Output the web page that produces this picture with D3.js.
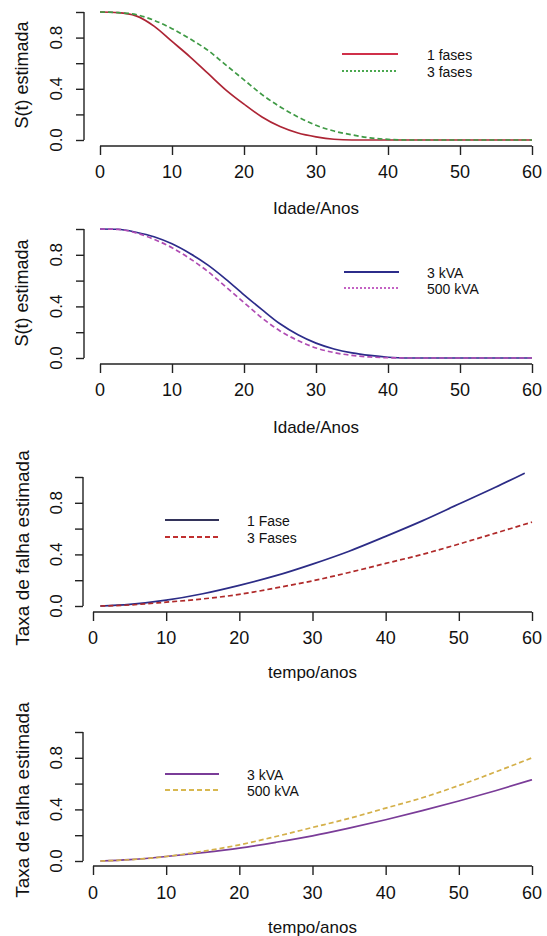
<!DOCTYPE html>
<html>
<head>
<meta charset="utf-8">
<script src="https://cdn.jsdelivr.net/npm/d3@7/dist/d3.min.js"></script>
<style>
  html, body { margin: 0; padding: 0; background: #fff; }
  svg text { font-family: "Liberation Sans", Arial, Helvetica, sans-serif; fill: #111; }
</style>
</head>
<body>
<svg id="chart" width="547" height="936"></svg>
<script>
// ---------- DATA ----------
const xTicks = [0, 10, 20, 30, 40, 50, 60];
const yTicks = [0, 0.2, 0.4, 0.6, 0.8, 1.0];
const yTickLabels = ["0.0", "", "0.4", "", "0.8", ""];

// survival curves (ages in years)
const survAges = [0, 2.5, 5, 7.5, 10, 12.5, 15, 17.5, 20, 22.5, 25, 27.5, 30, 32.5, 35, 37.5, 40, 42.5, 45, 47.5, 50, 52.5, 55, 57.5, 60];
const s1Fases = [1.0, 0.995, 0.97, 0.89, 0.77, 0.65, 0.52, 0.39, 0.28, 0.18, 0.105, 0.055, 0.025, 0.006, 0, 0, 0, 0, 0, 0, 0, 0, 0, 0, 0];
const s3Fases = [1.0, 0.995, 0.98, 0.935, 0.87, 0.79, 0.70, 0.585, 0.47, 0.355, 0.26, 0.18, 0.115, 0.07, 0.04, 0.017, 0.005, 0, 0, 0, 0, 0, 0, 0, 0];
const s3kVA = [1.0, 0.998, 0.975, 0.94, 0.885, 0.81, 0.72, 0.61, 0.49, 0.375, 0.265, 0.18, 0.115, 0.07, 0.04, 0.02, 0.006, 0, 0, 0, 0, 0, 0, 0, 0];
const s500kVA = [1.0, 0.997, 0.97, 0.92, 0.855, 0.77, 0.67, 0.55, 0.43, 0.31, 0.21, 0.135, 0.078, 0.042, 0.02, 0.008, 0.002, 0, 0, 0, 0, 0, 0, 0, 0];

// hazard curves (time in years)
const hazTimesA = [1, 5, 10, 15, 20, 25, 30, 35, 40, 45, 50, 55, 59];
const hazTimesB = [1, 5, 10, 15, 20, 25, 30, 35, 40, 45, 50, 55, 60];
const h1Fase = [0.0, 0.012, 0.045, 0.095, 0.16, 0.235, 0.325, 0.425, 0.54, 0.66, 0.79, 0.92, 1.03];
const h3Fases = [0.0, 0.008, 0.03, 0.055, 0.09, 0.14, 0.195, 0.26, 0.33, 0.40, 0.48, 0.565, 0.65];
const h3kVA = [0.0, 0.01, 0.035, 0.065, 0.10, 0.145, 0.195, 0.255, 0.32, 0.39, 0.465, 0.545, 0.63];
const h500kVA = [0.0, 0.01, 0.035, 0.075, 0.125, 0.19, 0.26, 0.33, 0.41, 0.49, 0.585, 0.69, 0.80];

// ---------- LAYOUT ----------
const svg = d3.select("#chart");
const tickFont = 18;
const titleFont = 17;

const panels = [
  {
    x0: 100, x1: 532, yTop: 12, yBot: 140, axisY: 146, yAxisX: 84,
    tickLabelY: 172, titleY: 208, ylabel: "S(t) estimada", ylabelY: 75, xlabel: "Idade/Anos",
    series: [
      { name: "1 fases", xs: survAges, ys: s1Fases, color: "#ad2535", dash: null, legDash: null, legColor: "#d0304a" },
      { name: "3 fases", xs: survAges, ys: s3Fases, color: "#3f9a45", dash: "5,3", legDash: "2,2", legColor: "#4aa84f" }
    ],
    legend: { x1: 342, x2: 398, y: 54, dy: 17, textX: 427 }
  },
  {
    x0: 100, x1: 532, yTop: 229, yBot: 358, axisY: 364, yAxisX: 84,
    tickLabelY: 390, titleY: 427, ylabel: "S(t) estimada", ylabelY: 293, xlabel: "Idade/Anos",
    series: [
      { name: "3 kVA", xs: survAges, ys: s3kVA, color: "#2c2c8a", dash: null, legDash: null, legColor: "#2c2c8a" },
      { name: "500 kVA", xs: survAges, ys: s500kVA, color: "#b04cb4", dash: "5,3", legDash: "2,2", legColor: "#c462c4" }
    ],
    legend: { x1: 344, x2: 399, y: 272, dy: 16, textX: 427 }
  },
  {
    x0: 93, x1: 532, yTop: 477, yBot: 606, axisY: 612, yAxisX: 83,
    tickLabelY: 638, titleY: 672, ylabel: "Taxa de falha estimada", ylabelY: 548, xlabel: "tempo/anos",
    series: [
      { name: "1 Fase", xs: hazTimesA, ys: h1Fase, color: "#2c2c86", dash: null, legDash: null, legColor: "#33335a" },
      { name: "3 Fases", xs: hazTimesB, ys: h3Fases, color: "#b02a2a", dash: "5,3", legDash: "5,3", legColor: "#c03030" }
    ],
    legend: { x1: 165, x2: 219, y: 520, dy: 17, textX: 247 }
  },
  {
    x0: 93, x1: 532, yTop: 732, yBot: 861, axisY: 866, yAxisX: 83,
    tickLabelY: 893, titleY: 927, ylabel: "Taxa de falha estimada", ylabelY: 800, xlabel: "tempo/anos",
    series: [
      { name: "3 kVA", xs: hazTimesB, ys: h3kVA, color: "#7a3c98", dash: null, legDash: null, legColor: "#7a3c98" },
      { name: "500 kVA", xs: hazTimesB, ys: h500kVA, color: "#d4b04a", dash: "5,3", legDash: "5,3", legColor: "#d8b850" }
    ],
    legend: { x1: 165, x2: 219, y: 774, dy: 16, textX: 247 }
  }
];

panels.forEach(p => {
  const g = svg.append("g");
  const x = d3.scaleLinear().domain([0, 60]).range([p.x0, p.x1]);
  const y = d3.scaleLinear().domain([0, 1]).range([p.yBot, p.yTop]);

  // x axis
  const xAxis = d3.axisBottom(x).tickValues(xTicks).tickSize(9).tickPadding(6)
    .tickFormat(d3.format("d"));
  const gx = g.append("g").attr("transform", `translate(0,${p.axisY})`).call(xAxis);
  gx.select(".domain").attr("d", `M${p.x0},0H${p.x1}`).attr("stroke", "#222").attr("stroke-width", 1.4);
  gx.selectAll(".tick line").attr("stroke", "#222").attr("stroke-width", 1.4);
  gx.selectAll(".tick text").remove();
  g.selectAll(".xtl").data(xTicks).enter().append("text")
    .attr("x", d => x(d)).attr("y", p.tickLabelY)
    .attr("text-anchor", "middle").attr("dominant-baseline", "central")
    .style("font-size", tickFont + "px").text(d => d);

  // y axis
  const yAxis = d3.axisLeft(y).tickValues(yTicks).tickSize(8).tickFormat("");
  const gy = g.append("g").attr("transform", `translate(${p.yAxisX},0)`).call(yAxis);
  gy.select(".domain").attr("d", `M0,${p.yBot}V${p.yTop}`).attr("stroke", "#222").attr("stroke-width", 1.4);
  gy.selectAll(".tick line").attr("stroke", "#222").attr("stroke-width", 1.4);
  g.selectAll(".ytl").data(yTicks).enter().append("text")
    .attr("transform", d => `translate(56,${y(d)}) rotate(-90)`)
    .attr("text-anchor", "middle").attr("dominant-baseline", "central")
    .style("font-size", "17px").text((d, i) => yTickLabels[i]);

  // titles
  g.append("text").attr("x", (p.x0 + p.x1) / 2).attr("y", p.titleY)
    .attr("text-anchor", "middle").attr("dominant-baseline", "central")
    .style("font-size", titleFont + "px").text(p.xlabel);
  g.append("text").attr("transform", `translate(22,${p.ylabelY}) rotate(-90)`)
    .attr("text-anchor", "middle").attr("dominant-baseline", "central")
    .style("font-size", (p.ylabel.length > 15 ? 19 : 18) + "px").text(p.ylabel);

  // lines
  const line = d3.line().x(d => x(d[0])).y(d => y(d[1])).curve(d3.curveMonotoneX);
  p.series.forEach(s => {
    const pts = s.xs.map((v, i) => [v, s.ys[i]]);
    g.append("path").datum(pts).attr("d", line)
      .attr("fill", "none").attr("stroke", s.color).attr("stroke-width", 1.7)
      .attr("stroke-dasharray", s.dash);
  });

  // legend
  p.series.forEach((s, i) => {
    const ly = p.legend.y + i * p.legend.dy;
    g.append("line").attr("x1", p.legend.x1).attr("x2", p.legend.x2)
      .attr("y1", ly).attr("y2", ly)
      .attr("stroke", s.legColor).attr("stroke-width", 1.8)
      .attr("stroke-dasharray", s.legDash);
    g.append("text").attr("x", p.legend.textX).attr("y", ly + 1)
      .attr("dominant-baseline", "central").style("font-size", "14px").text(s.name);
  });
});
</script>
</body>
</html>
